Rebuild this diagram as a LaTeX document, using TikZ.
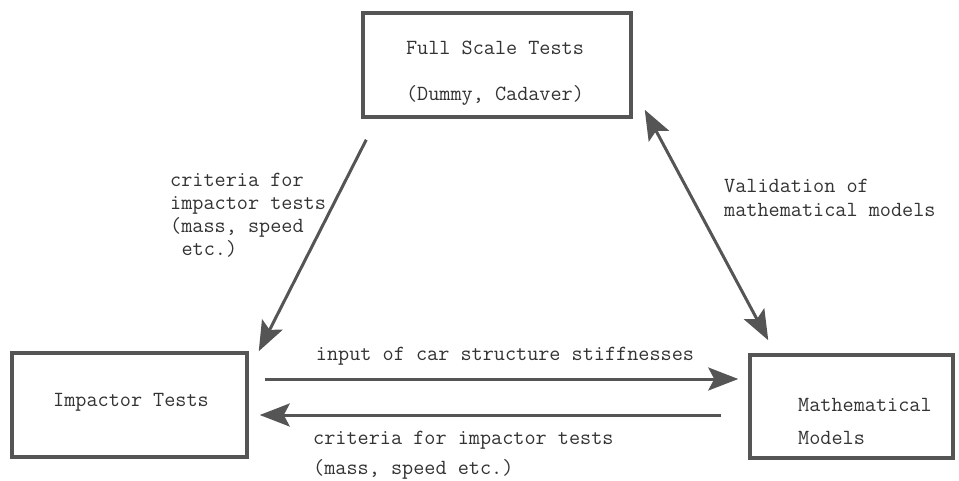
\documentclass[tikz,border=0pt]{standalone}
\usetikzlibrary{arrows.meta,calc}
\definecolor{linegray}{HTML}{555555}
\definecolor{txtgray}{HTML}{333333}
\tikzset{
  box/.style={draw=linegray, line width=3.5pt, inner sep=0pt},
  lbl/.style={font=\ttfamily\fontsize{21.6}{23}\selectfont, text=txtgray, inner sep=0pt, align=left},
  arr/.style={draw=linegray, line width=3pt, -{Stealth[length=30pt,width=23pt,inset=6pt]}},
  arrboth/.style={draw=linegray, line width=3pt, {Stealth[length=30pt,width=23pt,inset=6pt]}-{Stealth[length=30pt,width=23pt,inset=6pt]}}
}
\begin{document}
\begin{tikzpicture}[x=1pt,y=-1pt]
	\useasboundingbox (0,0) rectangle (959,480);
	% boxes
	\node[box, minimum width=268pt, minimum height=104pt] (full) at (497,65) {};
	\node[box, minimum width=235pt, minimum height=104pt] (imp) at (129.5,405) {};
	\node[box, minimum width=203pt, minimum height=103pt] (math) at (851.5,406.5) {};
	\node[lbl, align=center] (fulltxt) at (495,73) {Full Scale Tests\\[23pt](Dummy, Cadaver)};
	\node[lbl] (imptxt) at (131,402) {Impactor Tests};
	\node[lbl, anchor=west] (mathtxt) at (798,421.5) {Mathematical\\[10pt]Models};
	% connectors
	\coordinate (a1s) at ($(full.south west)+(5,21)$);
	\coordinate (a1e) at ($(imp.north east)+(10,0)$);
	\coordinate (a2s) at ($(full.south east)+(12,-9)$);
	\coordinate (a2e) at ($(math.north west)+(20,-13)$);
	\coordinate (a3s) at ($(imp.east)+(16,-26)$);
	\coordinate (a3e) at ($(math.west)+(-10,-27.5)$);
	\coordinate (a4s) at ($(math.west)+(-27,8.5)$);
	\coordinate (a4e) at ($(imp.east)+(11,10)$);
	\draw[arr] (a1s) -- (a1e);
	\draw[arrboth] (a2s) -- (a2e);
	\draw[arr] (a3s) -- (a3e);
	\draw[arr] (a4s) -- (a4e);
	% labels
	\node[lbl, anchor=west] (critl) at (170,215) {criteria for\\impactor tests\\(mass, speed\\\hspace*{0.525em}etc.)};
	\node[lbl, anchor=west] (valid) at (724,198) {Validation of\\[1pt]mathematical models};
	\node[lbl] (input) at (505,356) {input of car structure stiffnesses};
	\node[lbl, anchor=west] (critb) at (313,455) {criteria for impactor tests\\[7pt](mass, speed etc.)};
\end{tikzpicture}
\end{document}
